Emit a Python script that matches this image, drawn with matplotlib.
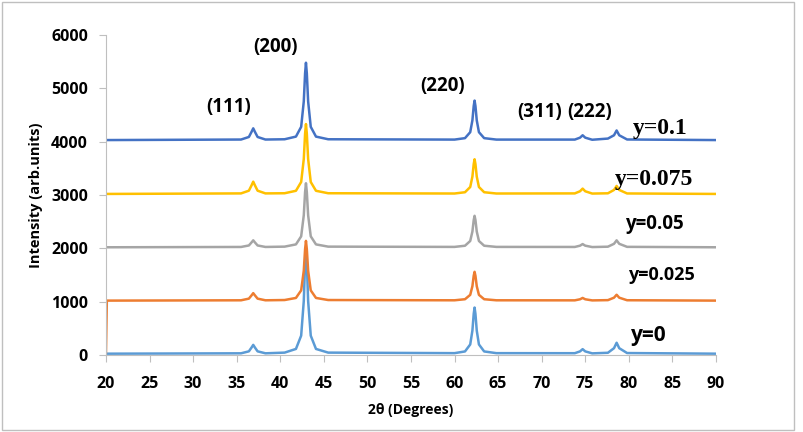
import matplotlib
matplotlib.use("Agg")
import matplotlib.pyplot as plt
from matplotlib.patches import Rectangle

# 2theta points (baseline, peak flanks, apex), shared by all curves
two_theta = [20, 20.1,
             35.5, 36.4, 36.7, 36.9, 37.1, 37.4, 38.3,
             40.5, 41.8, 42.4, 42.7, 42.85, 42.95, 43.05, 43.2, 43.5, 44.1, 45.5,
             60.0, 61.2, 61.8, 62.05, 62.2, 62.3, 62.4, 62.55, 62.8, 63.4, 64.8,
             73.8, 74.4, 74.7, 75.0, 75.8,
             77.6, 78.3, 78.6, 78.9, 79.8,
             90]

int_y0 = [25, 25,
          32, 69, 139, 190, 139, 69, 32,
          45, 114, 363, 1013, 1727, 2000, 1727, 1013, 363, 114, 45,
          35, 67, 198, 458, 771, 890, 771, 458, 198, 67, 35,
          34, 68, 110, 68, 31,
          42, 128, 230, 128, 37,
          25]
int_y0025 = [50, 1020,
             1026, 1057, 1117, 1160, 1117, 1057, 1026,
             1031, 1070, 1212, 1580, 1985, 2140, 1985, 1580, 1212, 1070, 1031,
             1026, 1046, 1128, 1290, 1485, 1560, 1485, 1290, 1128, 1046, 1026,
             1025, 1045, 1070, 1045, 1024,
             1029, 1075, 1130, 1075, 1027,
             1020]
int_y005 = [2020, 2020,
            2026, 2054, 2110, 2150, 2110, 2054, 2026,
            2032, 2074, 2225, 2620, 3054, 3220, 3054, 2620, 2225, 2074, 2032,
            2027, 2049, 2138, 2315, 2529, 2610, 2529, 2315, 2138, 2049, 2027,
            2026, 2050, 2080, 2050, 2024,
            2031, 2085, 2150, 2085, 2028,
            2020]
int_y0075 = [3020, 3020,
             3030, 3081, 3179, 3250, 3179, 3081, 3030,
             3033, 3079, 3244, 3675, 4149, 4330, 4149, 3675, 3244, 3079, 3033,
             3028, 3052, 3150, 3345, 3580, 3670, 3580, 3345, 3150, 3052, 3028,
             3030, 3070, 3120, 3070, 3027,
             3032, 3095, 3170, 3095, 3029,
             3020]
int_y01 = [4030, 4030,
           4040, 4088, 4182, 4250, 4182, 4088, 4040,
           4045, 4095, 4278, 4755, 5280, 5480, 5280, 4755, 4278, 4095, 4045,
           4039, 4066, 4178, 4400, 4668, 4770, 4668, 4400, 4178, 4066, 4039,
           4039, 4075, 4120, 4075, 4036,
           4058, 4120, 4210, 4120, 4041,
           4030]

miller = ["(111)", "(200)", "(220)", "(311)", "(222)"]
miller_x = [34.1, 39.5, 58.6, 69.8, 75.5]
miller_y = [4650, 5775, 5044, 4556, 4556]

xticks = list(range(20, 95, 5))
yticks = list(range(0, 7000, 1000))

fig = plt.figure(figsize=(8.04, 4.32), dpi=100)
ax = fig.add_axes([0.1318, 0.1782, 0.7587, 0.7408])

ax.plot(two_theta, int_y0, color="#5B9BD5", lw=1.8)
ax.plot(two_theta, int_y0025, color="#ED7D31", lw=1.8)
ax.plot(two_theta, int_y005, color="#A5A5A5", lw=1.8)
ax.plot(two_theta, int_y0075, color="#FFC000", lw=1.8)
ax.plot(two_theta, int_y01, color="#4472C4", lw=1.8)

ax.set_xlim(20, 90)
ax.set_ylim(0, 6000)
ax.set_xticks(xticks)
ax.set_yticks(yticks)

font = "Open Sans"
for lab in ax.get_xticklabels() + ax.get_yticklabels():
    lab.set_fontfamily(font)
    lab.set_fontweight("bold")
    lab.set_fontsize(11.5)

for s in ["top", "right"]:
    ax.spines[s].set_visible(False)
for s in ["left", "bottom"]:
    ax.spines[s].set_color("#BFBFBF")
ax.tick_params(direction="out", length=5, color="#BFBFBF")
ax.tick_params(axis="x", pad=10)
ax.tick_params(axis="y", pad=8)

ax.set_xlabel("2θ (Degrees)", fontfamily=font, fontweight="bold", fontsize=10, labelpad=8)
ax.set_ylabel("Intensity (arb.units)", fontfamily=font, fontweight="bold", fontsize=10.5, labelpad=6)

for t, x, y in zip(miller, miller_x, miller_y):
    ax.text(x, y, t, ha="center", va="center", fontfamily=font, fontweight="bold", fontsize=13.5)

ax.text(83.6, 4256, "y=0.1", ha="center", va="center", fontfamily="Liberation Serif", fontweight="bold", fontsize=17)
ax.text(82.9, 3300, "y=0.075", ha="center", va="center", fontfamily="Liberation Serif", fontweight="bold", fontsize=17)
ax.text(82.9, 2456, "y=0.05", ha="center", va="center", fontfamily=font, fontweight="bold", fontsize=13.5)
ax.text(83.8, 1500, "y=0.025", ha="center", va="center", fontfamily=font, fontweight="bold", fontsize=13)
ax.text(82.3, 375, "y=0", ha="center", va="center", fontfamily=font, fontweight="bold", fontsize=15)

fig.patches.append(Rectangle((0.003, 0.005), 0.984, 0.99, transform=fig.transFigure,
                             fill=False, edgecolor="#BFBFBF", lw=1))

fig.savefig("out.png", dpi=100)
